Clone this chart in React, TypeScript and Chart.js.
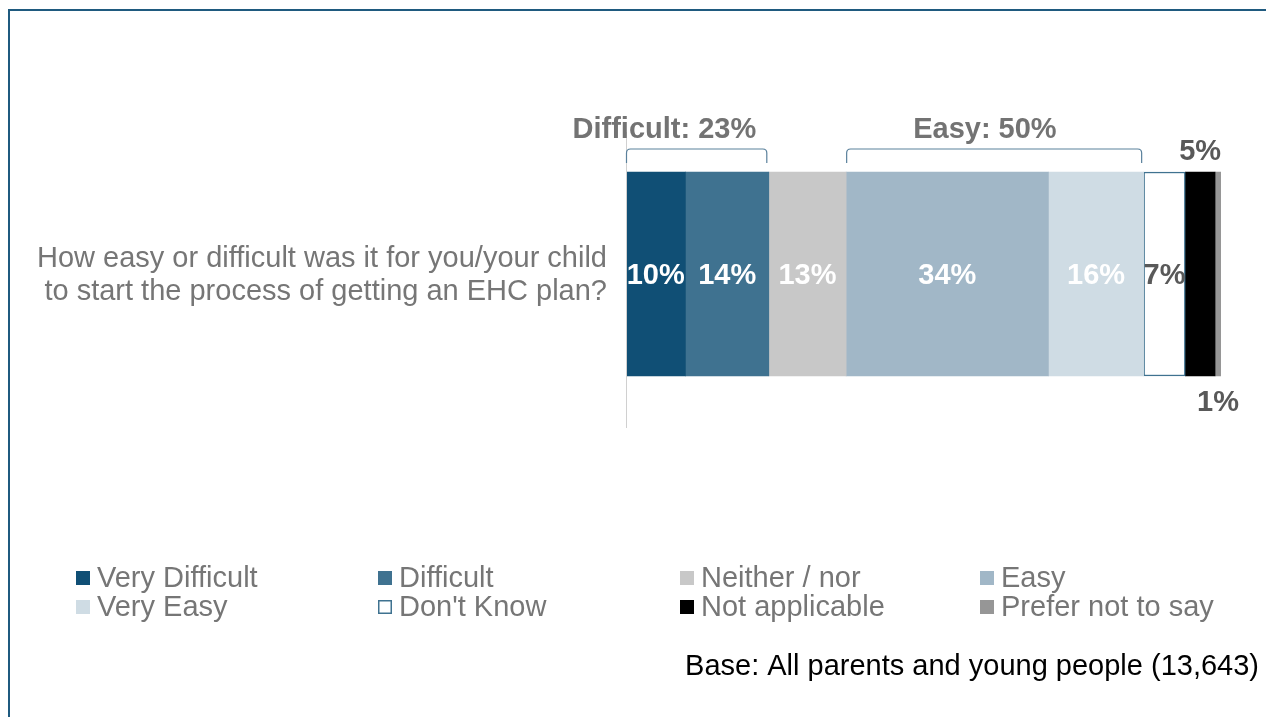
import React, { useEffect, useRef } from "react";
import { Chart, registerables } from "chart.js";

Chart.register(...registerables);

const categories = ["How easy or difficult was it for you/your child to start the process of getting an EHC plan?"];
const questionLines = ["How easy or difficult was it for you/your child", "to start the process of getting an EHC plan?"];
const seriesNames = ["Very Difficult", "Difficult", "Neither / nor", "Easy", "Very Easy", "Don't Know", "Not applicable", "Prefer not to say"];
const seriesValues = [10, 14, 13, 34, 16, 7, 5, 1];
const seriesColors = ["#104F75", "#3F7290", "#C8C8C8", "#A1B7C7", "#CFDCE4", "#FFFFFF", "#000000", "#969696"];
const groupLabels = ["Difficult: 23%", "Easy: 50%"];
const groupRanges = [[0, 1], [3, 4]];
const baseText = "Base: All parents and young people (13,643)";

const FONT = "'Liberation Sans', Arial, sans-serif";
const FS = 29;

const overlayPlugin = {
  id: "overlay",
  afterDatasetsDraw(chart: any) {
    const ctx = chart.ctx as CanvasRenderingContext2D;
    const area = chart.chartArea;
    ctx.save();
    // frame
    ctx.fillStyle = "#1F5A7F";
    ctx.fillRect(8, 9, 1258, 2);
    ctx.fillRect(8, 9, 2, 708);
    // axis line
    ctx.strokeStyle = "#D0D0D0";
    ctx.lineWidth = 1;
    ctx.beginPath();
    ctx.moveTo(area.left + 0.5, 132);
    ctx.lineTo(area.left + 0.5, area.bottom);
    ctx.stroke();

    const els = chart.data.datasets.map((_: any, i: number) => chart.getDatasetMeta(i).data[0]);
    const segs = els.map((e: any) => {
      const l = Math.min(e.x, e.base);
      const r = Math.max(e.x, e.base);
      return { l, r, c: (l + r) / 2, y: e.y, top: e.y - e.height / 2, bottom: e.y + e.height / 2 };
    });

    // value labels
    ctx.font = `bold ${FS}px ${FONT}`;
    ctx.textAlign = "center";
    ctx.textBaseline = "middle";
    seriesValues.forEach((v, i) => {
      const s = segs[i];
      const txt = `${v}%`;
      if (i <= 4) {
        ctx.fillStyle = "#FFFFFF";
        ctx.fillText(txt, s.c, s.y + 2);
      } else if (i === 5) {
        ctx.fillStyle = "#595959";
        ctx.fillText(txt, s.c, s.y + 2);
      } else if (i === 6) {
        ctx.fillStyle = "#595959";
        ctx.fillText(txt, s.c, s.top - 20);
      } else {
        ctx.fillStyle = "#595959";
        ctx.fillText(txt, s.c, s.bottom + 27);
      }
    });

    // group brackets
    const offsets = [-32, -9];
    groupRanges.forEach((rg, gi) => {
      const l = segs[rg[0]].l;
      const r = segs[rg[1]].r - 2;
      const yTop = segs[0].top - 23;
      const yEnd = segs[0].top - 9;
      ctx.strokeStyle = "#5A819C";
      ctx.lineWidth = 1.2;
      ctx.beginPath();
      ctx.moveTo(l + 0.5, yEnd);
      ctx.lineTo(l + 0.5, yTop + 4);
      ctx.quadraticCurveTo(l + 0.5, yTop, l + 4.5, yTop);
      ctx.lineTo(r - 4, yTop);
      ctx.quadraticCurveTo(r, yTop, r, yTop + 4);
      ctx.lineTo(r, yEnd);
      ctx.stroke();
      ctx.fillStyle = "#737373";
      ctx.font = `bold ${FS}px ${FONT}`;
      ctx.textAlign = "center";
      ctx.fillText(groupLabels[gi], (l + r) / 2 + offsets[gi], yTop - 19);
    });

    // question text
    ctx.fillStyle = "#767676";
    ctx.font = `${FS}px ${FONT}`;
    ctx.textAlign = "right";
    questionLines.forEach((line, i) => {
      ctx.fillText(line, 607, 259 + i * 33);
    });

    // legend
    const colX = [76, 378, 680, 980];
    const rowY = [578, 607];
    ctx.font = `${FS}px ${FONT}`;
    ctx.textAlign = "left";
    seriesNames.forEach((name, i) => {
      const col = i % 4;
      const row = Math.floor(i / 4);
      const x = colX[col];
      const y = rowY[row];
      if (i === 5) {
        ctx.fillStyle = "#FFFFFF";
        ctx.fillRect(x, y - 7, 14, 14);
        ctx.strokeStyle = "#3F7290";
        ctx.lineWidth = 1.5;
        ctx.strokeRect(x + 0.75, y - 6.25, 12.5, 12.5);
      } else {
        ctx.fillStyle = seriesColors[i];
        ctx.fillRect(x, y - 7, 14, 14);
      }
      ctx.fillStyle = "#767676";
      ctx.fillText(name, x + 21, y + 1);
    });

    // base
    ctx.fillStyle = "#000000";
    ctx.font = `${FS}px ${FONT}`;
    ctx.textAlign = "right";
    ctx.fillText(baseText, 1259, 667);
    ctx.restore();
  },
};

export default function App() {
  const ref = useRef<HTMLCanvasElement | null>(null);
  useEffect(() => {
    if (!ref.current) return;
    const chart = new Chart(ref.current, {
      type: "bar",
      data: {
        labels: categories,
        datasets: seriesNames.map((name, i) => ({
          label: name,
          data: [seriesValues[i]],
          backgroundColor: seriesColors[i],
          borderColor: i === 5 ? "#3F7290" : seriesColors[i],
          borderWidth: i === 5 ? 1.5 : 0,
          borderSkipped: false,
          barThickness: 204,
        })),
      },
      options: {
        indexAxis: "y",
        animation: false,
        responsive: false,
        devicePixelRatio: 1,
        layout: { padding: { left: 626, right: 45, top: 120, bottom: 289 } },
        scales: {
          x: { stacked: true, min: 0, max: 100, display: false },
          y: { stacked: true, display: false },
        },
        plugins: {
          legend: { display: false },
          tooltip: { enabled: false },
          title: { display: false },
        },
      },
      plugins: [overlayPlugin],
    });
    return () => chart.destroy();
  }, []);
  return (
    <div style={{ position: "absolute", left: 0, top: 0, width: 1266, height: 717, background: "#fff" }}>
      <canvas ref={ref} width={1266} height={717} style={{ width: 1266, height: 717, display: "block" }} />
    </div>
  );
}
